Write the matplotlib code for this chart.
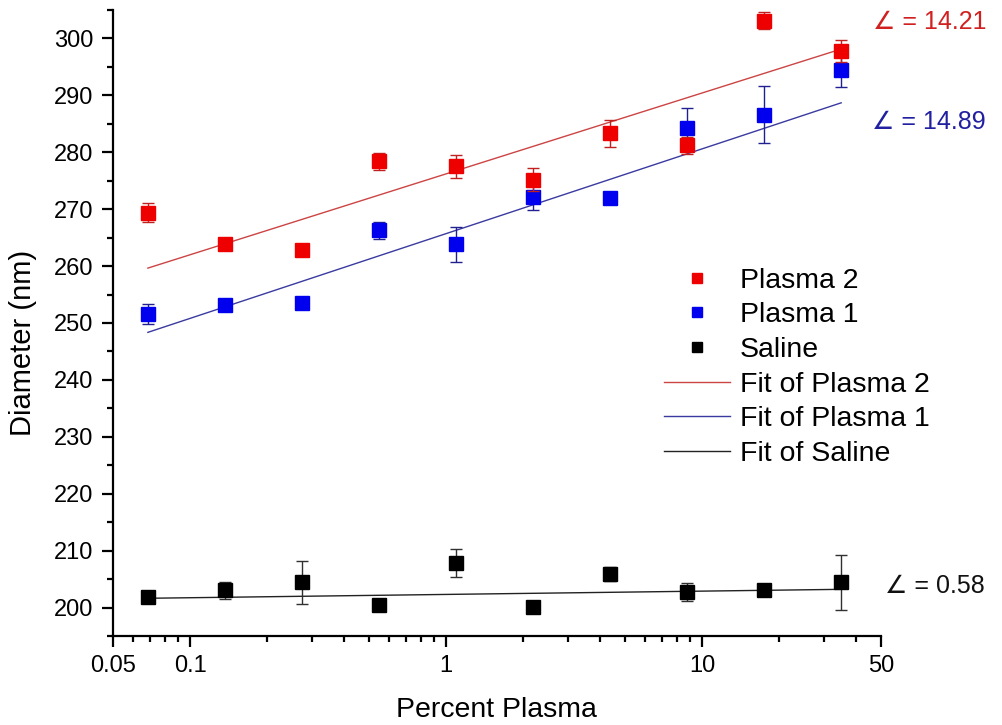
import numpy as np
import matplotlib
matplotlib.use("Agg")
import matplotlib.pyplot as plt
from matplotlib.lines import Line2D
from matplotlib.ticker import FixedLocator, FixedFormatter, LogLocator, MultipleLocator, NullFormatter

plt.rcParams["font.family"] = ["Liberation Sans", "DejaVu Sans"]

# percent plasma (two-fold dilution series)
pct = [0.0684, 0.137, 0.273, 0.547, 1.09, 2.19, 4.375, 8.75, 17.5, 35.0]

plasma2 = [269.4, 263.8, 262.9, 278.4, 277.5, 275.2, 283.3, 281.2, 303.1, 297.8]
plasma2_err = [1.7, 0.7, 0.9, 1.5, 2.0, 2.0, 2.3, 1.5, 1.5, 2.0]

plasma1 = [251.6, 253.2, 253.6, 266.3, 263.8, 272.1, 271.9, 284.3, 286.6, 294.5]
plasma1_err = [1.8, 1.0, 0.8, 1.5, 3.0, 2.2, 1.0, 3.5, 5.0, 3.0]

saline = [201.9, 203.0, 204.4, 200.4, 207.8, 200.1, 205.9, 202.7, 203.1, 204.4]
saline_err = [0.5, 1.5, 3.7, 0.5, 2.4, 0.5, 1.2, 1.6, 1.0, 4.8]

# linear fits in log10(x): slope per decade, value at x = 1
fit_slope = {"Plasma 2": 14.21, "Plasma 1": 14.89, "Saline": 0.58}
fit_at_1 = {"Plasma 2": 276.2, "Plasma 1": 265.7, "Saline": 202.3}

series = [
    ("Plasma 2", plasma2, plasma2_err, "#ee0000", "#c02020", "#cc4444"),
    ("Plasma 1", plasma1, plasma1_err, "#0000ee", "#202090", "#3a3aa0"),
    ("Saline", saline, saline_err, "#000000", "#303030", "#222222"),
]

fig = plt.figure(figsize=(10.03, 7.25), dpi=100)
ax = fig.add_axes([0.1127, 0.1228, 0.7655, 0.8634])

x = np.array(pct)
pts = []
fits = []
for i, (name, y, err, mcol, ecol, lcol) in enumerate(series):
    ax.errorbar(x, y, yerr=err, fmt="s", ms=9.5, color=mcol, mec=mcol,
                ecolor=ecol, elinewidth=1.0, capsize=4.5, capthick=1.0,
                zorder=5 - i)
    pts.append(Line2D([], [], ls="none", marker="s", ms=7.5, color=mcol, label=name))
for name, y, err, mcol, ecol, lcol in series:
    xf = np.array([x[0], x[-1]])
    yf = fit_at_1[name] + fit_slope[name] * np.log10(xf)
    ln, = ax.plot(xf, yf, color=lcol, lw=1.0, label="Fit of " + name, zorder=2)
    fits.append(ln)

ax.set_xscale("log")
ax.set_xlim(0.05, 50)
ax.set_ylim(195, 305)

ax.xaxis.set_major_locator(FixedLocator([0.05, 0.1, 1, 10, 50]))
ax.xaxis.set_major_formatter(FixedFormatter(["0.05", "0.1", "1", "10", "50"]))
ax.xaxis.set_minor_locator(LogLocator(base=10, subs=np.arange(2, 10)))
ax.xaxis.set_minor_formatter(NullFormatter())
ax.yaxis.set_major_locator(FixedLocator(np.arange(200, 301, 10)))
ax.yaxis.set_minor_locator(MultipleLocator(5))

for s in ["top", "right"]:
    ax.spines[s].set_visible(False)
for s in ["left", "bottom"]:
    ax.spines[s].set_linewidth(1.6)
ax.tick_params(which="major", direction="out", length=8, width=1.6,
               labelsize=17, pad=6)
ax.tick_params(which="minor", direction="out", length=4.5, width=1.6)

ax.set_xlabel("Percent Plasma", fontsize=20.5, labelpad=14)
ax.set_ylabel("Diameter (nm)", fontsize=21)
ax.yaxis.set_label_coords(-0.099, 0.468)

ax.legend(handles=pts + fits, loc="upper left", bbox_to_anchor=(0.718, 0.588),
          frameon=False, fontsize=20.5, handlelength=2.3, handletextpad=0.35,
          labelspacing=0.3, borderaxespad=0, borderpad=0)

ax.text(0.9896, 302.9, "\u2220 = 14.21", color="#d02020", fontsize=18,
        transform=ax.get_yaxis_transform(), ha="left", va="center", clip_on=False)
ax.text(0.9883, 285.3, "\u2220 = 14.89", color="#2020a0", fontsize=18,
        transform=ax.get_yaxis_transform(), ha="left", va="center", clip_on=False)
ax.text(1.005, 203.7, "\u2220 = 0.58", color="#111111", fontsize=18,
        transform=ax.get_yaxis_transform(), ha="left", va="center", clip_on=False)

fig.savefig("out.png", dpi=100)
